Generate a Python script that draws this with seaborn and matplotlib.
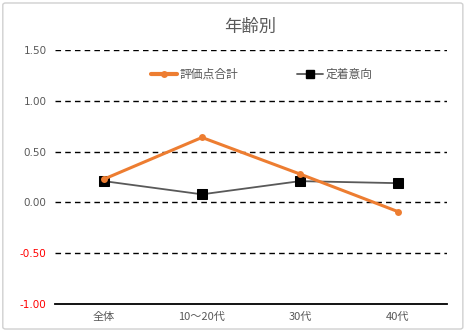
import matplotlib
matplotlib.use("Agg")
import matplotlib.pyplot as plt
from matplotlib.patches import FancyBboxPatch
from matplotlib.lines import Line2D
import seaborn as sns
import pandas as pd

# Data
categories = ["全体", "10～20代", "30代", "40代"]
score_total = [0.23, 0.64, 0.28, -0.09]      # 評価点合計
retention = [0.21, 0.08, 0.21, 0.19]         # 定着意向
yticks = [-1.00, -0.50, 0.00, 0.50, 1.00, 1.50]

sns.set_theme(style="white")
plt.rcParams["font.family"] = ["Noto Sans CJK JP", "DejaVu Sans"]

df = pd.DataFrame({
    "区分": categories * 2,
    "値": score_total + retention,
    "系列": ["評価点合計"] * len(categories) + ["定着意向"] * len(categories),
})

fig = plt.figure(figsize=(4.68, 3.32), dpi=100)
ax = fig.add_axes([0.1175, 0.0843, 0.8375, 0.7647])

# outer chart frame
frame = FancyBboxPatch((0.006, 0.009), 0.983, 0.982, boxstyle="round,pad=0,rounding_size=0.006",
                       transform=fig.transFigure, facecolor="white", edgecolor="#d0d0d0",
                       linewidth=1.0, zorder=-10)
fig.patches.append(frame)
ax.set_facecolor("none")

orange = "#ED7D31"
gray = "#595959"

sns.lineplot(data=df[df["系列"] == "評価点合計"], x="区分", y="値", ax=ax, color=orange,
             linewidth=2.2, marker="o", markersize=5, markeredgewidth=0, sort=False, zorder=4)
sns.lineplot(data=df[df["系列"] == "定着意向"], x="区分", y="値", ax=ax, color=gray,
             linewidth=1.3, marker="s", markersize=7, markerfacecolor="black",
             markeredgecolor="black", sort=False, zorder=3)

ax.set_xlim(-0.5, 3.5)
ax.set_ylim(-1.0, 1.5)
ax.set_yticks(yticks)
ax.set_yticklabels([f"{v:.2f}".replace("-", "‐") if v < 0 else f"{v:.2f}" for v in yticks],
                   fontsize=7.5, family="DejaVu Sans")
for lbl, v in zip(ax.get_yticklabels(), yticks):
    lbl.set_color("#FF0000" if v < 0 else gray)
ax.set_xticks(range(len(categories)))
ax.set_xticklabels(categories, fontsize=8, color=gray)
ax.tick_params(axis="both", length=0, pad=6)
ax.set_xlabel("")
ax.set_ylabel("")

for v in yticks[1:]:
    ax.axhline(v, color="black", linestyle=(0, (4, 3)), linewidth=1.0, zorder=1)

for side in ["left", "right", "top"]:
    ax.spines[side].set_visible(False)
ax.spines["bottom"].set_color("black")
ax.spines["bottom"].set_linewidth(1.3)

fig.text(0.534, 0.918, "年齢別", ha="center", va="center", fontsize=12.5, color=gray)

handles = [
    Line2D([], [], color=orange, linewidth=3.0, marker="o", markersize=5, markeredgewidth=0),
    Line2D([], [], color=gray, linewidth=1.3, marker="s", markersize=6,
           markerfacecolor="black", markeredgecolor="black"),
]
leg = ax.legend(handles, ["評価点合計", "定着意向"], loc="center", bbox_to_anchor=(0.528, 0.905),
                ncol=2, frameon=False, fontsize=8.5, handlelength=2.2, handletextpad=0.2,
                columnspacing=5.0)
for t in leg.get_texts():
    t.set_color(gray)

fig.savefig("out.png", dpi=100)
